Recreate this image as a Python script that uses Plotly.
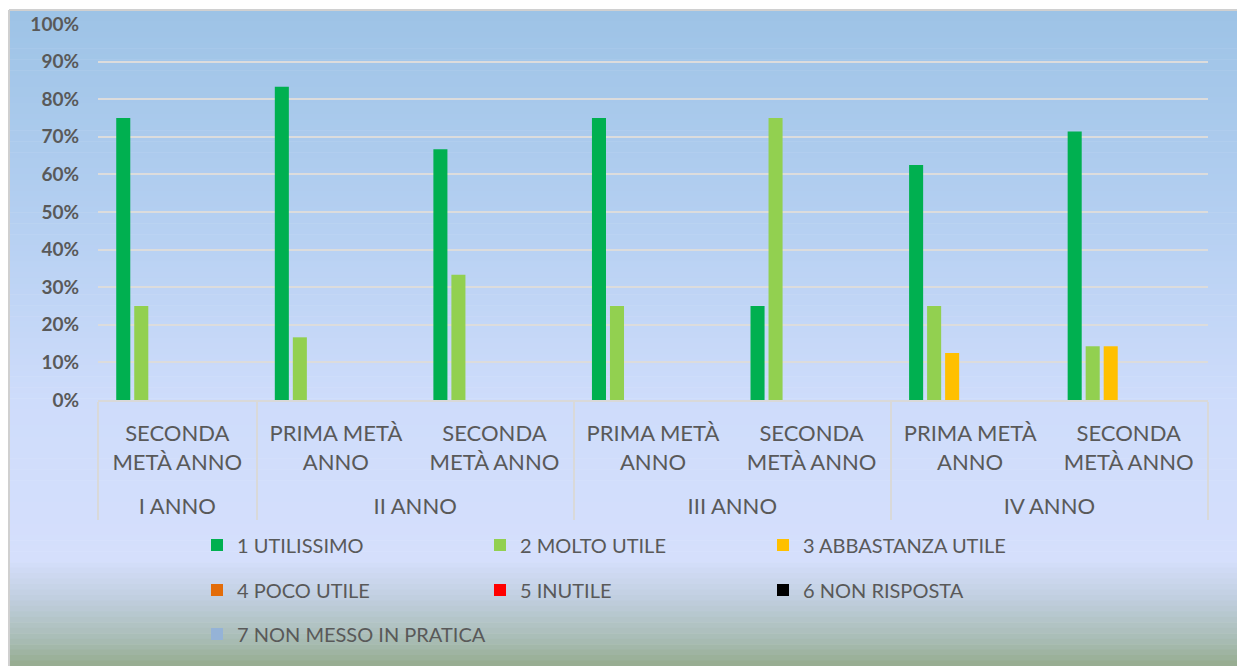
import plotly.graph_objects as go

# ---- data ----
years = ["I ANNO", "II ANNO", "II ANNO", "III ANNO", "III ANNO", "IV ANNO", "IV ANNO"]
# (the first label ends with a plain space instead of &nbsp; so that plotly keeps
#  PRIMA before SECONDA inside each year group)
halves = ["SECONDA<br>METÀ ANNO<br> ", "PRIMA METÀ<br>ANNO<br>&nbsp;", "SECONDA<br>METÀ ANNO<br>&nbsp;",
          "PRIMA METÀ<br>ANNO<br>&nbsp;", "SECONDA<br>METÀ ANNO<br>&nbsp;", "PRIMA METÀ<br>ANNO<br>&nbsp;",
          "SECONDA<br>METÀ ANNO<br>&nbsp;"]
series_names = ["1 UTILISSIMO", "2 MOLTO UTILE", "3 ABBASTANZA UTILE",
                "4 POCO UTILE", "5 INUTILE", "6 NON RISPOSTA", "7 NON MESSO IN PRATICA"]
s1 = [0.75, 0.8333, 0.6667, 0.75, 0.25, 0.625, 0.7143]
s2 = [0.25, 0.1667, 0.3333, 0.25, 0.75, 0.25, 0.1429]
s3 = [0, 0, 0, 0, 0, 0.125, 0.1429]
s4 = [0, 0, 0, 0, 0, 0, 0]
s5 = [0, 0, 0, 0, 0, 0, 0]
s6 = [0, 0, 0, 0, 0, 0, 0]
s7 = [0, 0, 0, 0, 0, 0, 0]
series_values = [s1, s2, s3, s4, s5, s6, s7]
colors = ["#00b050", "#92d050", "#ffc000", "#e36c09", "#ff0000", "#000000", "#95b3d7"]
legend_ids = ["legend", "legend", "legend", "legend2", "legend2", "legend2", "legend3"]

W, H = 1237, 666
L, R, T, B = 98, 29, 24, 266
PH = H - T - B
PW = W - L - R

def py(px_y):
    return (H - B - px_y) / PH

def px(px_x):
    return (px_x - L) / PW

fig = go.Figure()
for name, vals, col, lg in zip(series_names, series_values, colors, legend_ids):
    fig.add_trace(go.Bar(
        x=[years, halves], y=vals, name=name, legend=lg,
        marker=dict(color=col, line=dict(width=0)),
    ))

# background gradient (styling only)
stops = [(10, (157, 195, 230)), (200, (178, 206, 240)), (400, (206, 220, 251)),
         (560, (213, 223, 252)), (600, (192, 206, 222)), (640, (168, 188, 180)),
         (666, (150, 172, 142))]
shapes = []
n = 120
for i in range(n):
    y0 = 10 + (H - 10) * i / n
    y1 = 10 + (H - 10) * (i + 1) / n + 0.6
    ym = (y0 + y1) / 2
    for (a, ca), (b, cb) in zip(stops[:-1], stops[1:]):
        if a <= ym <= b:
            t = (ym - a) / (b - a)
            c = tuple(int(round(ca[k] + (cb[k] - ca[k]) * t)) for k in range(3))
            break
    shapes.append(dict(type="rect", xref="paper", yref="paper", layer="below",
                       x0=px(9), x1=px(W + 2), y0=py(y1), y1=py(y0),
                       fillcolor="rgb(%d,%d,%d)" % c, line=dict(width=0)))
# frame lines
shapes.append(dict(type="line", xref="paper", yref="paper", layer="below",
                   x0=px(9), x1=px(W + 2), y0=py(10), y1=py(10),
                   line=dict(color="#d0d0d0", width=2)))
shapes.append(dict(type="line", xref="paper", yref="paper", layer="below",
                   x0=px(9), x1=px(9), y0=py(10), y1=py(H + 2),
                   line=dict(color="#d0d0d0", width=2)))

legend_font = dict(family="Lato, sans-serif", size=20, color="#595959")
common_leg = dict(orientation="h", xanchor="left", yanchor="middle", font=legend_font,
                  bgcolor="rgba(0,0,0,0)", itemwidth=30, traceorder="normal")

fig.update_layout(
    width=W, height=H,
    margin=dict(l=L, r=R, t=T, b=B),
    paper_bgcolor="white",
    plot_bgcolor="rgba(0,0,0,0)",
    barmode="group",
    bargap=0.205,
    bargroupgap=0.22,
    shapes=shapes,
    font=dict(family="Lato, sans-serif", color="#595959"),
    xaxis=dict(
        type="multicategory",
        showline=True, linecolor="#d9d9d9", linewidth=1.5,
        showgrid=False, ticks="",
        ticklabelstandoff=13,
        showdividers=True, dividercolor="#d9d9d9", dividerwidth=1.5,
        tickfont=dict(family="Lato, sans-serif", size=22, color="#595959"),
    ),
    yaxis=dict(
        range=[0, 1], dtick=0.1, tickformat=".0%",
        showgrid=True, gridcolor="#dcdcdc", gridwidth=1.5,
        zeroline=False, showline=False, ticks="",
        ticklabelstandoff=18,
        tickfont=dict(family="Lato, sans-serif", size=19, color="#595959", weight="bold"),
    ),
    legend=dict(x=px(197), y=py(545), entrywidth=238, **common_leg),
    legend2=dict(x=px(197), y=py(590), entrywidth=238, **common_leg),
    legend3=dict(x=px(197), y=py(634), entrywidth=320, **common_leg),
)

post = (
    "var st=document.createElement('style');"
    "st.textContent='html,body{margin:0!important;padding:0!important;overflow:hidden!important;"
    "scrollbar-width:none;}::-webkit-scrollbar{display:none;width:0;height:0;}';"
    "document.head.appendChild(st);"
    "window.scrollTo(0,0);"
)
fig.write_html("out.html", config={"displayModeBar": False}, post_script=post)
